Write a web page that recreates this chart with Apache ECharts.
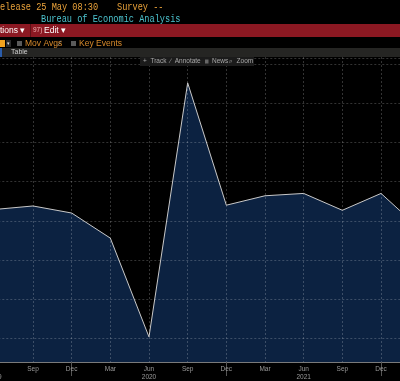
<!DOCTYPE html>
<html>
<head>
<meta charset="utf-8">
<script src="https://cdn.jsdelivr.net/npm/echarts@6/dist/echarts.min.js"></script>
<style>html,body{margin:0;padding:0;background:#000;}#c{width:400px;height:381px;}</style>
</head>
<body>
<div id="c"></div>
<script>
// Quarterly periods (first and last fall just outside the visible window)
const categories = ['Jun 2019','Sep 2019','Dec 2019','Mar 2020','Jun 2020','Sep 2020','Dec 2020','Mar 2021','Jun 2021','Sep 2021','Dec 2021','Mar 2022'];
// Values (QoQ % change, annualised)
const values = [2.9, 3.8, 2.0, -4.4, -29.6, 35.2, 4.0, 6.4, 7.0, 2.7, 7.0, -2.0];
const yMin = -36.0, yMax = 41.8;
const yGridValues = [-30, -20, -10, 0, 10, 20, 30, 40, 41.5];

const amber = '#eaa23a';
const chart = echarts.init(document.getElementById('c'), null, {renderer: 'canvas'});
const mono = 'Liberation Mono, DejaVu Sans Mono, monospace';
const sans = 'Arial, Liberation Sans, sans-serif';
const gridStyle = {color: 'rgba(255,255,255,0.2)', type: [2, 2], width: 1};

chart.setOption({
  backgroundColor: '#000',
  animation: false,
  grid: {left: -5.7, right: -19.7, top: 57, bottom: 19, containLabel: false, outerBoundsMode: 'none'},
  xAxis: {
    type: 'category', data: categories, boundaryGap: false, z: 5,
    axisLine: {show: true, onZero: false, lineStyle: {color: '#7a7a7a', width: 1}},
    axisTick: {show: true, length: 14, interval: (i, v) => v.startsWith('Dec'), lineStyle: {color: '#555'}},
    axisLabel: {
      interval: 0, margin: 3, color: '#9a9a9a', fontSize: 6.5, fontFamily: sans,
      formatter: v => { const [m, y] = v.split(' '); return m === 'Jun' ? m + '\n' + y : m; },
      lineHeight: 8
    },
    splitLine: {show: true, interval: 0, lineStyle: gridStyle}
  },
  yAxis: {
    type: 'value', min: yMin, max: yMax,
    axisLine: {show: false}, axisTick: {show: false}, axisLabel: {show: false},
    splitLine: {show: false}
  },
  series: [{
    type: 'line', data: values, symbol: 'none', clip: true, z: 2,
    lineStyle: {color: '#c9c9c9', width: 1},
    areaStyle: {color: '#0c2241', opacity: 1, origin: 'start'},
    markLine: {
      silent: true, symbol: 'none', z: 6, animation: false,
      label: {show: false}, lineStyle: gridStyle,
      emphasis: {disabled: true},
      data: yGridValues.map(v => ({yAxis: v}))
    }
  }],
  graphic: [
    // header text
    {type: 'text', x: 0, y: 7, scaleX: 0.82, style: {text: 'elease 25 May 08:30', font: '10.5px ' + mono, fill: amber, textVerticalAlign: 'middle'}},
    {type: 'text', x: 117, y: 7, scaleX: 0.82, style: {text: 'Survey --', font: '10.5px ' + mono, fill: amber, textVerticalAlign: 'middle'}},
    {type: 'text', x: 41, y: 19, scaleX: 0.82, style: {text: 'Bureau of Economic Analysis', font: '10.5px ' + mono, fill: '#4cc3cf', textVerticalAlign: 'middle'}},
    // red bar
    {type: 'rect', shape: {x: 0, y: 24, width: 400, height: 13}, style: {fill: '#8b1822'}},
    {type: 'rect', shape: {x: 30, y: 24, width: 1, height: 13}, style: {fill: '#5e0f16'}},
    {type: 'text', x: 0, y: 30.5, style: {text: 'tions \u25BE', font: '8.5px ' + sans, fill: '#ffffff', textVerticalAlign: 'middle'}},
    {type: 'text', x: 33, y: 30.5, style: {text: '97)', font: '6.5px ' + sans, fill: '#f0b0b0', textVerticalAlign: 'middle'}},
    {type: 'text', x: 44, y: 30.5, style: {text: 'Edit \u25BE', font: '8.5px ' + sans, fill: '#ffffff', textVerticalAlign: 'middle'}},
    // options row
    {type: 'rect', shape: {x: 0, y: 40, width: 5, height: 7}, style: {fill: '#f2a31f'}},
    {type: 'rect', shape: {x: 6, y: 40, width: 5, height: 7}, style: {fill: '#2b2b2b'}},
    {type: 'text', x: 8.5, y: 43.5, style: {text: '\u25BE', font: '5px ' + sans, fill: '#ddd', textAlign: 'center', textVerticalAlign: 'middle'}},
    {type: 'rect', shape: {x: 17, y: 41, width: 5, height: 5}, style: {fill: '#5a5a5a'}},
    {type: 'text', x: 25, y: 43.5, style: {text: 'Mov Avgs', font: '8.5px ' + sans, fill: '#d98b2b', textVerticalAlign: 'middle'}},
    {type: 'text', x: 59, y: 43.5, style: {text: '\u2215', font: '8px ' + sans, fill: '#999', textVerticalAlign: 'middle'}},
    {type: 'rect', shape: {x: 71, y: 41, width: 5, height: 5}, style: {fill: '#5a5a5a'}},
    {type: 'text', x: 79, y: 43.5, style: {text: 'Key Events', font: '8.5px ' + sans, fill: '#d98b2b', textVerticalAlign: 'middle'}},
    // table row
    {type: 'rect', shape: {x: 0, y: 48, width: 400, height: 9}, style: {fill: '#252523'}},
    {type: 'rect', shape: {x: 0, y: 48, width: 2, height: 9}, style: {fill: '#2a5caa'}},
    {type: 'text', x: 11, y: 52.5, style: {text: 'Table', font: '7px ' + sans, fill: '#cfcfcf', textVerticalAlign: 'middle'}},
    // chart toolbar overlay
    {type: 'rect', z: 10, shape: {x: 140, y: 57, width: 114, height: 9}, style: {fill: '#1b1b1b'}},
    {type: 'text', z: 11, x: 143, y: 61.5, style: {text: '+  Track', font: '6.5px ' + sans, fill: '#a8a8a8', textVerticalAlign: 'middle'}},
    {type: 'text', z: 11, x: 170, y: 61.5, style: {text: '\u2215  Annotate', font: '6.5px ' + sans, fill: '#a8a8a8', textVerticalAlign: 'middle'}},
    {type: 'rect', z: 11, shape: {x: 205, y: 59.5, width: 3.5, height: 4}, style: {fill: '#666'}},
    {type: 'text', z: 11, x: 212, y: 61.5, style: {text: 'News', font: '6.5px ' + sans, fill: '#a8a8a8', textVerticalAlign: 'middle'}},
    {type: 'text', z: 11, x: 229, y: 61.5, style: {text: '\u2315  Zoom', font: '6.5px ' + sans, fill: '#a8a8a8', textVerticalAlign: 'middle'}}
  ]
});
</script>
</body>
</html>
